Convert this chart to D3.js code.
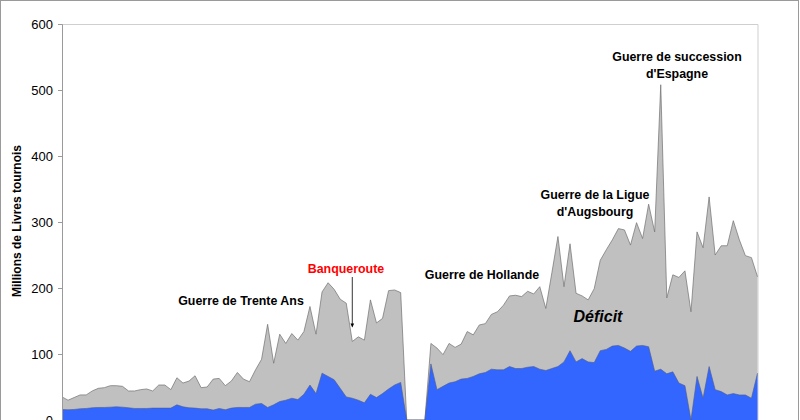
<!DOCTYPE html>
<html>
<head>
<meta charset="utf-8">
<script src="https://cdn.jsdelivr.net/npm/d3@7"></script>
<style>
  html, body { margin: 0; padding: 0; background: #fff; }
  svg { display: block; }
  text { font-family: "Liberation Sans", Arial, sans-serif; }
</style>
</head>
<body>
<svg id="chart" width="800" height="420"></svg>
<script>
// ---- DATA ----
const years = d3.range(1600, 1716);
const depenses = [
  35, 30, 34, 38, 38, 44, 48, 49, 52, 52,
  51, 44, 44, 46, 47, 44, 53, 53, 46, 64,
  56, 59, 67, 49, 50, 62, 63, 52, 59, 72,
  62, 58, 76, 92, 145, 86, 130, 116, 131, 121,
  134, 172, 130, 194, 208, 198, 183, 177, 119, 126,
  121, 182, 147, 154, 196, 197, 193, 0, 0, 0,
  0, 116, 109, 99, 116, 110, 115, 134, 129, 144,
  146, 160, 164, 174, 188, 189, 187, 195, 191, 202,
  169, 223, 278, 202, 267, 192, 188, 182, 199, 242,
  258, 273, 290, 288, 265, 299, 275, 327, 285, 508,
  185, 220, 216, 226, 164, 285, 261, 338, 250, 264,
  264, 302, 273, 249, 246, 217
];
const recettes = [
  16, 15.5, 16, 17, 17.5, 18.5, 19, 19, 19.5, 20,
  19.5, 18.5, 17.5, 17.5, 17.5, 18, 18, 18, 18, 23,
  20, 18.5, 18, 17, 17, 15, 17.5, 15.5, 18, 19,
  19, 19, 24, 25, 19, 23, 28, 30, 33, 31,
  39, 53, 40, 71, 66, 61, 48, 35, 33, 30,
  26, 39, 34, 40, 47, 53, 57, 0, 0, 0,
  0, 85, 46, 51, 56, 58, 62, 63, 66, 70,
  72, 77, 76, 76, 81, 78, 78, 80, 81, 77,
  75, 78, 81, 88, 105, 88, 93, 88, 87, 105,
  107, 112, 113, 109, 104, 112, 113, 111, 74, 77,
  70, 73, 56, 52, 0, 66, 33, 81, 46, 43,
  38, 40, 38, 38, 33, 71
];
const yTicks = [0, 100, 200, 300, 400, 500, 600];
const annotations = [
  { lines: ["Guerre de Trente Ans"], x: 241, y: 301, color: "#000" },
  { lines: ["Banqueroute"], x: 346, y: 269, color: "#ff0000" },
  { lines: ["Guerre de Hollande"], x: 482, y: 275, color: "#000" },
  { lines: ["Guerre de la Ligue", "d'Augsbourg"], x: 595, y: 195, color: "#000" },
  { lines: ["Guerre de succession", "d'Espagne"], x: 677, y: 57, color: "#000" }
];
const yTitle = "Millions de Livres tournois";
const deficitLabel = "Déficit";
const banquerouteYear = 1648;

// ---- CHART ----
(function () {
const svg = d3.select("#chart");
const W = 800, H = 420;
const mLeft = 62, mRight = 757.5, mTop = 24, mBottom = 420;

const x = d3.scaleLinear().domain([years[0], years[years.length - 1]]).range([mLeft, mRight]);
const y = d3.scaleLinear().domain([0, 600]).range([mBottom, mTop]);

// outer frame
svg.append("rect").attr("x", 0.5).attr("y", 0.5).attr("width", W - 2).attr("height", H + 5)
  .attr("fill", "#fff").attr("stroke", "#9a9a9a").attr("stroke-width", 1);

// plot border (top & right)
svg.append("path")
  .attr("d", `M${mLeft},${mTop + 0.5}H${mRight + 0.5}V${mBottom}`)
  .attr("fill", "none").attr("stroke", "#cfcfcf").attr("stroke-width", 1);

const areaGen = d3.area()
  .x((d, i) => x(years[i])).y0(y(0)).y1(d => y(d));
const lineGen = d3.line().x((d, i) => x(years[i])).y(d => y(d));

svg.append("path").datum(depenses)
  .attr("d", areaGen).attr("fill", "#c0c0c0");
svg.append("path").datum(depenses)
  .attr("d", lineGen).attr("fill", "none").attr("stroke", "#707070").attr("stroke-width", 0.7);

svg.append("path").datum(recettes)
  .attr("d", areaGen).attr("fill", "#3366ff");
svg.append("path").datum(recettes)
  .attr("d", lineGen).attr("fill", "none").attr("stroke", "#4a5a8a").attr("stroke-width", 0.6);

// y axis
const yAxis = d3.axisLeft(y).tickValues(yTicks).tickSize(4).tickPadding(5).tickFormat(d3.format("d"));
const gy = svg.append("g").attr("transform", `translate(${mLeft},0)`).call(yAxis);
gy.select(".domain").attr("stroke", "#9a9a9a");
gy.selectAll(".tick line").attr("stroke", "#9a9a9a");
gy.selectAll(".tick text").attr("font-size", 13).attr("fill", "#000")
  .attr("font-family", "'Liberation Sans', Arial, sans-serif");

// y title
svg.append("text")
  .attr("transform", "translate(21,221) rotate(-90)")
  .attr("text-anchor", "middle")
  .attr("font-size", 12).attr("font-weight", "bold").attr("fill", "#000")
  .text(yTitle);

// annotations
annotations.forEach(a => {
  const t = svg.append("text")
    .attr("text-anchor", "middle")
    .attr("font-size", 12.4).attr("font-weight", "bold").attr("fill", a.color);
  a.lines.forEach((ln, k) => {
    t.append("tspan").attr("x", a.x).attr("y", a.y + k * 16.7).attr("dy", "0.35em").text(ln);
  });
});

// Déficit label
svg.append("text")
  .attr("x", 598).attr("y", 316).attr("dy", "0.35em")
  .attr("text-anchor", "middle")
  .attr("font-size", 16).attr("font-weight", "bold").attr("font-style", "italic")
  .attr("fill", "#000").text(deficitLabel);

// Banqueroute arrow
const bi = years.indexOf(banquerouteYear);
const ax = x(banquerouteYear);
const ay2 = y(depenses[bi]) - 15;
svg.append("line")
  .attr("x1", ax).attr("x2", ax).attr("y1", 277).attr("y2", ay2)
  .attr("stroke", "#000").attr("stroke-width", 0.8);
svg.append("path")
  .attr("d", `M${ax - 1.8},${ay2 - 3}L${ax + 1.8},${ay2 - 3}L${ax},${ay2 + 1}Z`)
  .attr("fill", "#000");
})();
</script>
</body>
</html>
